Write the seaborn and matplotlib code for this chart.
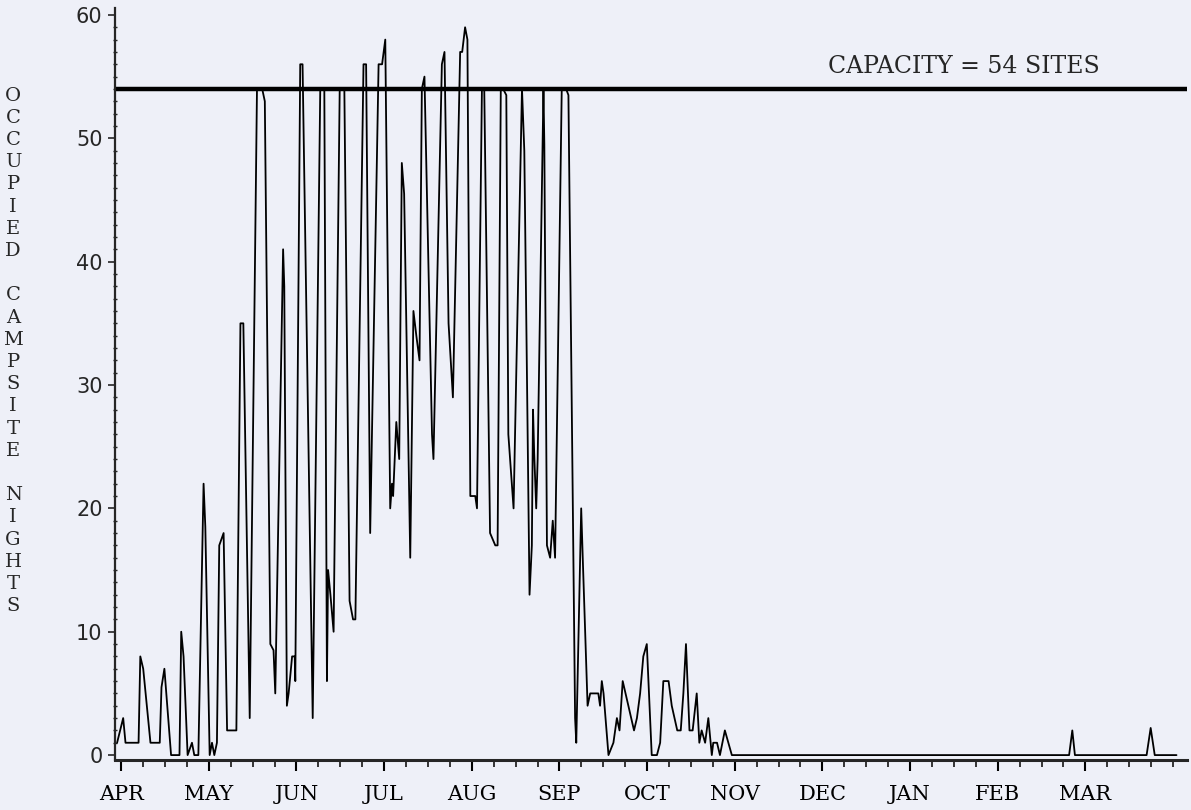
import numpy as np
import pandas as pd
import matplotlib
matplotlib.use("Agg")
import matplotlib.pyplot as plt
import seaborn as sns

# vertices of the daily occupancy trace, day 0 = start of April
days = [
    0.0, 2.1, 2.9, 7.4, 8.0, 9.0, 11.5, 14.7, 15.3, 16.3, 18.6, 21.5, 22.1, 22.9,
    24.3, 25.8, 26.6, 28.0, 29.8, 30.4, 31.9, 32.7, 33.5, 34.4, 35.2, 36.7, 37.9,
    41.1, 42.5, 43.5, 45.7, 48.2, 50.0, 50.9, 52.8, 53.9, 54.5, 57.2, 57.6, 58.5,
    59.1, 60.3, 61.2, 61.4, 63.1, 63.9, 67.4, 70.0, 71.4, 72.3, 72.7, 73.5, 74.6,
    76.7, 78.3, 80.1, 81.3, 82.1, 84.9, 85.8, 87.2, 90.1, 91.3, 92.4, 94.1, 94.7,
    95.1, 96.2, 97.2, 98.1, 98.9, 101.0, 102.1, 103.1, 104.2, 105.0, 105.9, 108.5,
    109.0, 111.9, 112.8, 114.2, 115.7, 118.2, 118.9, 119.9, 120.7, 121.7, 123.4,
    124.0, 125.7, 126.5, 128.5, 130.3, 131.1, 132.2, 133.0, 134.1, 134.8, 136.6,
    139.5, 140.3, 142.1, 142.9, 143.3, 143.7, 144.4, 144.9, 146.9, 147.2, 148.1,
    149.2, 150.1, 150.9, 153.2, 154.7, 155.5, 157.8, 158.2, 159.9, 160.5, 162.1,
    163.0, 165.8, 166.4, 167.0, 167.6, 169.3, 171.0, 172.2, 173.1, 174.2, 178.1,
    179.1, 180.2, 181.3, 182.5, 184.2, 186.0, 187.1, 188.2, 190.0, 191.1, 193.0,
    194.2, 195.1, 196.0, 197.2, 198.3, 199.7, 200.6, 201.4, 202.6, 203.7, 204.9,
    205.4, 206.7, 207.7, 209.4, 211.8, 328.0, 329.1, 330.0, 354.7, 356.1, 357.5,
    365.0,
]
nights = [
    1, 3, 1, 1, 8, 7, 1, 1, 5.5, 7, 0, 0, 10, 8,
    0, 1, 0, 0, 22, 18.5, 0, 1, 0, 1, 17, 18, 2,
    2, 35, 35, 3, 54, 54, 53, 9, 8.5, 5, 41, 38, 4,
    5, 8, 8, 6, 56, 56, 3, 54, 54, 6, 15, 13, 10,
    54, 54, 12.5, 11, 11, 56, 56, 18, 56, 56, 58, 20, 22,
    21, 27, 24, 48, 45.5, 16, 36, 34, 32, 54, 55, 26,
    24, 56, 57, 35, 29, 57, 57, 59, 58, 21, 21,
    20, 54, 54, 18, 17, 17, 54, 54, 53.5, 26, 20,
    54, 49, 13, 17, 28, 24.5, 20, 24, 54, 49.5, 17,
    16, 19, 16, 54, 54, 53.5, 3, 1, 20, 15.5, 4,
    5, 5, 4, 6, 5, 0, 1, 3, 2, 6, 2,
    3, 5, 8, 9, 0, 0, 1, 6, 6, 4, 2,
    2, 5, 9, 2, 2, 5, 1, 2, 1, 3, 0,
    1, 1, 0, 2, 0, 0, 2, 0, 0, 2.2, 0,
    0,
]
months = ["APR", "MAY", "JUN", "JUL", "AUG", "SEP", "OCT", "NOV", "DEC", "JAN", "FEB", "MAR"]
capacity = 54

df = pd.DataFrame({"day": days, "nights": nights})

sns.set_style("ticks")
plt.rcParams["font.family"] = ["DejaVu Serif", "DejaVu Sans"]
paper = "#eef0f8"

fig = plt.figure(figsize=(11.91, 8.10), dpi=100, facecolor=paper)
ax = fig.add_axes([0.0966, 0.0617, 0.9, 0.929])
ax.set_facecolor(paper)

sns.lineplot(data=df, x="day", y="nights", color="black", linewidth=1.3,
             estimator=None, ax=ax)
ax.axhline(capacity, color="black", linewidth=3.2)
ax.text(245, capacity + 0.9, "CAPACITY = %d SITES" % capacity, fontsize=17,
        ha="left", va="bottom")

# month ticks are drawn evenly spaced, four minor ticks per month
month_step = 30.2
ax.set_xticks([1.4 + i * month_step for i in range(12)])
ax.set_xticklabels(months, fontsize=15)
ax.set_xticks([1.4 + i * month_step / 4 for i in range(49)], minor=True)
ax.set_xlim(-0.7, 368.6)
ax.set_ylim(-0.4, 60.6)
ax.set_yticks(range(0, 61, 10))
ax.set_yticklabels([str(v) for v in range(0, 61, 10)], fontsize=15,
                   family="DejaVu Sans")
ax.set_yticks(range(0, 61), minor=True)

ax.tick_params(axis="x", which="major", direction="out", length=8, width=1.5,
               pad=10, colors="black")
ax.tick_params(axis="x", which="minor", direction="out", length=5, width=1.3)
ax.tick_params(axis="y", which="major", direction="out", length=5, width=1.2,
               pad=4)
ax.tick_params(axis="y", which="minor", direction="inout", length=3, width=1)

for side in ["top", "right"]:
    ax.spines[side].set_visible(False)
ax.spines["left"].set_linewidth(1.6)
ax.spines["bottom"].set_linewidth(2.2)
ax.set_xlabel("")
ax.set_ylabel("")

label = "OCCUPIED CAMPSITE NIGHTS"
fig.text(0.011, 0.893, "\n".join(label), fontsize=14, ha="center", va="top",
         linespacing=1.30)

fig.savefig("out.png", dpi=100, facecolor=paper)
